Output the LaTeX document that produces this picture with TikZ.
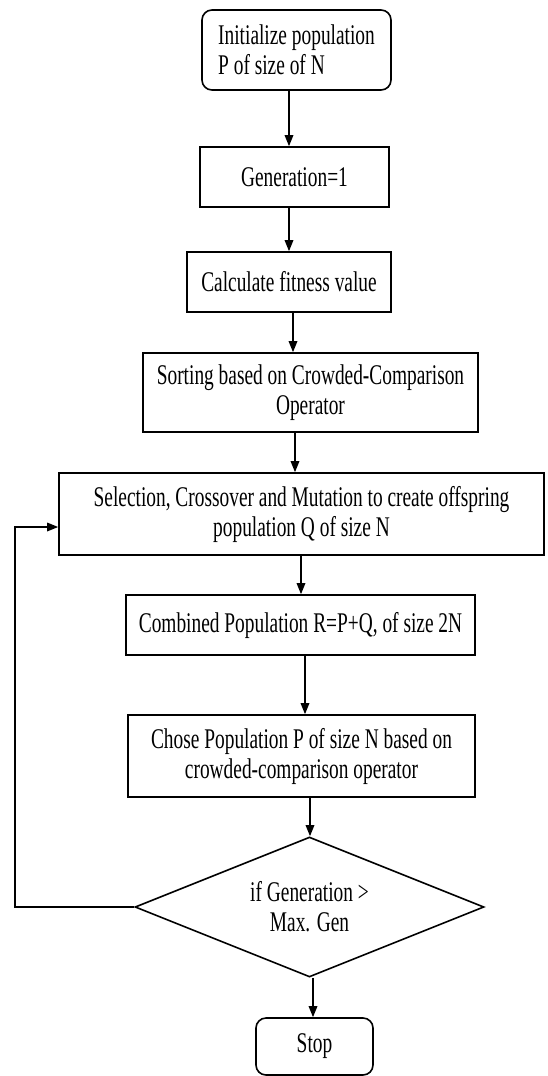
\documentclass[tikz,border=0pt]{standalone}
\usepackage{fontspec}
\setmainfont[FakeStretch=0.68]{Liberation Serif}
\usetikzlibrary{arrows.meta,shapes.geometric}
\tikzset{
  >={Triangle[length=11pt,width=8.5pt]},
  box/.style={draw,line width=1.6pt,align=center,inner sep=0pt,
    font=\fontsize{28.5}{30}\selectfont},
  term/.style={box,rounded corners=10pt},
  test/.style={box,diamond,aspect=2.5},
  flow/.style={->,line width=1.6pt},
}

\begin{document}
\begin{tikzpicture}[x=1pt,y=-1pt]
  \useasboundingbox (0,0) rectangle (547,1076);
  % boxes, top to bottom
  \node[term,align=left,minimum width=189pt,minimum height=80pt] (init) at (296.5,50)
    {Initialize population\\P of size of N};
  \node[box,minimum width=189pt,minimum height=60pt] (gen) at (294.5,177) {Generation=1};
  \node[box,minimum width=204pt,minimum height=60pt] (calc) at (289,282) {Calculate fitness value};
  \node[box,minimum width=335pt,minimum height=79pt] (sort) at (310.5,392.5)
    {Sorting based on Crowded-Comparison\\Operator};
  \node[box,minimum width=485pt,minimum height=82pt] (sel) at (301.5,514)
    {Selection, Crossover and Mutation to create offspring\\population Q of size N};
  \node[box,minimum width=349pt,minimum height=60pt] (comb) at (300.5,625)
    {Combined Population R=P+Q, of size 2N};
  \node[box,minimum width=347pt,minimum height=82pt] (chose) at (301.5,756)
    {Chose Population P of size N based on\\crowded-comparison operator};
  \node[test,minimum width=349pt,minimum height=140pt] (cond) at (309.5,907)
    {if Generation >\\Max. Gen};
  \node[term,minimum width=117pt,minimum height=57pt] (stop) at (314.5,1046.5) {Stop};
  % straight arrows down the chart
  \foreach \a/\b/\s in {init/gen/-7.5, gen/calc/-5.5, calc/sort/4, sort/sel/-15.5,
      sel/comb/-0.5, comb/chose/4.5, chose/cond/8.5, cond/stop/3.5}
    \draw[flow] ([xshift=\s pt]\a.south) -- ([xshift=\s pt]\a.south |- \b.north);
  % loop back
  \draw[flow] (cond.west) -- ++(-119pt,0) |- ([yshift=-13pt]sel.west);
\end{tikzpicture}
\end{document}
